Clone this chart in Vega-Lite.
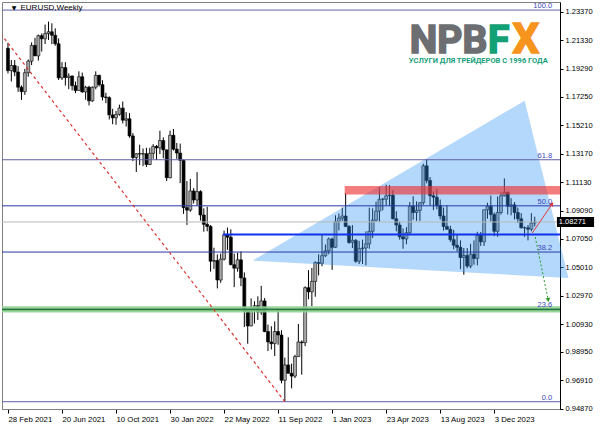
{
  "$schema": "https://vega.github.io/schema/vega-lite/v6.json",
  "width": 558,
  "height": 407,
  "padding": {"left": 2, "top": 2, "right": 40, "bottom": 20},
  "autosize": {"type": "none"},
  "background": "white",
  "config": {
    "view": {"stroke": "#808080", "strokeWidth": 1},
    "font": "Liberation Sans",
    "axis": {"labelOverlap": false, "labelFlush": false, "labelBound": false, "grid": false}
  },
  "datasets": {
    "candles": [
      {"d":"2021-02-28","o":1.2075,"h":1.2113,"l":1.1894,"c":1.1914},
      {"d":"2021-03-07","o":1.1914,"h":1.1990,"l":1.1836,"c":1.1951},
      {"d":"2021-03-14","o":1.1951,"h":1.1990,"l":1.1874,"c":1.1904},
      {"d":"2021-03-21","o":1.1904,"h":1.1946,"l":1.1762,"c":1.1795},
      {"d":"2021-03-28","o":1.1795,"h":1.1808,"l":1.1704,"c":1.1763},
      {"d":"2021-04-04","o":1.1763,"h":1.1927,"l":1.1740,"c":1.1899},
      {"d":"2021-04-11","o":1.1899,"h":1.1994,"l":1.1870,"c":1.1982},
      {"d":"2021-04-18","o":1.1982,"h":1.2117,"l":1.1954,"c":1.2095},
      {"d":"2021-04-25","o":1.2095,"h":1.2150,"l":1.2020,"c":1.2020},
      {"d":"2021-05-02","o":1.2020,"h":1.2173,"l":1.1986,"c":1.2165},
      {"d":"2021-05-09","o":1.2165,"h":1.2181,"l":1.2051,"c":1.2143},
      {"d":"2021-05-16","o":1.2143,"h":1.2245,"l":1.2105,"c":1.2180},
      {"d":"2021-05-23","o":1.2180,"h":1.2266,"l":1.2134,"c":1.2193},
      {"d":"2021-05-30","o":1.2193,"h":1.2254,"l":1.2104,"c":1.2168},
      {"d":"2021-06-06","o":1.2168,"h":1.2218,"l":1.2093,"c":1.2107},
      {"d":"2021-06-13","o":1.2107,"h":1.2145,"l":1.1847,"c":1.1862},
      {"d":"2021-06-20","o":1.1862,"h":1.1975,"l":1.1847,"c":1.1936},
      {"d":"2021-06-27","o":1.1936,"h":1.1975,"l":1.1807,"c":1.1865},
      {"d":"2021-07-04","o":1.1865,"h":1.1895,"l":1.1781,"c":1.1875},
      {"d":"2021-07-11","o":1.1875,"h":1.1880,"l":1.1772,"c":1.1806},
      {"d":"2021-07-18","o":1.1806,"h":1.1835,"l":1.1752,"c":1.1771},
      {"d":"2021-07-25","o":1.1771,"h":1.1909,"l":1.1770,"c":1.1870},
      {"d":"2021-08-01","o":1.1870,"h":1.1900,"l":1.1755,"c":1.1761},
      {"d":"2021-08-08","o":1.1761,"h":1.1805,"l":1.1705,"c":1.1795},
      {"d":"2021-08-15","o":1.1795,"h":1.1805,"l":1.1664,"c":1.1697},
      {"d":"2021-08-22","o":1.1697,"h":1.1800,"l":1.1690,"c":1.1795},
      {"d":"2021-08-29","o":1.1795,"h":1.1909,"l":1.1780,"c":1.1880},
      {"d":"2021-09-05","o":1.1880,"h":1.1885,"l":1.1800,"c":1.1813},
      {"d":"2021-09-12","o":1.1813,"h":1.1845,"l":1.1700,"c":1.1725},
      {"d":"2021-09-19","o":1.1725,"h":1.1755,"l":1.1680,"c":1.1720},
      {"d":"2021-09-26","o":1.1720,"h":1.1730,"l":1.1563,"c":1.1596},
      {"d":"2021-10-03","o":1.1596,"h":1.1640,"l":1.1529,"c":1.1575},
      {"d":"2021-10-10","o":1.1575,"h":1.1625,"l":1.1525,"c":1.1600},
      {"d":"2021-10-17","o":1.1600,"h":1.1670,"l":1.1590,"c":1.1645},
      {"d":"2021-10-24","o":1.1645,"h":1.1692,"l":1.1535,"c":1.1558},
      {"d":"2021-10-31","o":1.1558,"h":1.1616,"l":1.1512,"c":1.1568},
      {"d":"2021-11-07","o":1.1568,"h":1.1609,"l":1.1432,"c":1.1445},
      {"d":"2021-11-14","o":1.1445,"h":1.1465,"l":1.1264,"c":1.1290},
      {"d":"2021-11-21","o":1.1290,"h":1.1320,"l":1.1186,"c":1.1317},
      {"d":"2021-11-28","o":1.1317,"h":1.1382,"l":1.1236,"c":1.1315},
      {"d":"2021-12-05","o":1.1315,"h":1.1355,"l":1.1228,"c":1.1317},
      {"d":"2021-12-12","o":1.1317,"h":1.1360,"l":1.1222,"c":1.1240},
      {"d":"2021-12-19","o":1.1240,"h":1.1360,"l":1.1235,"c":1.1320},
      {"d":"2021-12-26","o":1.1320,"h":1.1386,"l":1.1280,"c":1.1370},
      {"d":"2022-01-02","o":1.1370,"h":1.1380,"l":1.1272,"c":1.1359},
      {"d":"2022-01-09","o":1.1359,"h":1.1482,"l":1.1315,"c":1.1412},
      {"d":"2022-01-16","o":1.1412,"h":1.1435,"l":1.1285,"c":1.1345},
      {"d":"2022-01-23","o":1.1345,"h":1.1345,"l":1.1121,"c":1.1145},
      {"d":"2022-01-30","o":1.1145,"h":1.1483,"l":1.1140,"c":1.1450},
      {"d":"2022-02-06","o":1.1450,"h":1.1495,"l":1.1340,"c":1.1350},
      {"d":"2022-02-13","o":1.1350,"h":1.1395,"l":1.1280,"c":1.1322},
      {"d":"2022-02-20","o":1.1322,"h":1.1390,"l":1.1106,"c":1.1270},
      {"d":"2022-02-27","o":1.1270,"h":1.1275,"l":1.0885,"c":1.0930},
      {"d":"2022-03-06","o":1.0930,"h":1.1121,"l":1.0806,"c":1.0912},
      {"d":"2022-03-13","o":1.0912,"h":1.1137,"l":1.0900,"c":1.1050},
      {"d":"2022-03-20","o":1.1050,"h":1.1070,"l":1.0960,"c":1.0985},
      {"d":"2022-03-27","o":1.0985,"h":1.1185,"l":1.0945,"c":1.1045},
      {"d":"2022-04-03","o":1.1045,"h":1.1055,"l":1.0837,"c":1.0877},
      {"d":"2022-04-10","o":1.0877,"h":1.0925,"l":1.0757,"c":1.0810},
      {"d":"2022-04-17","o":1.0810,"h":1.0936,"l":1.0760,"c":1.0795},
      {"d":"2022-04-24","o":1.0795,"h":1.0805,"l":1.0470,"c":1.0545},
      {"d":"2022-05-01","o":1.0545,"h":1.0642,"l":1.0490,"c":1.0550},
      {"d":"2022-05-08","o":1.0550,"h":1.0594,"l":1.0350,"c":1.0410},
      {"d":"2022-05-15","o":1.0410,"h":1.0600,"l":1.0390,"c":1.0560},
      {"d":"2022-05-22","o":1.0560,"h":1.0765,"l":1.0550,"c":1.0735},
      {"d":"2022-05-29","o":1.0735,"h":1.0787,"l":1.0627,"c":1.0718},
      {"d":"2022-06-05","o":1.0718,"h":1.0774,"l":1.0516,"c":1.0520},
      {"d":"2022-06-12","o":1.0520,"h":1.0600,"l":1.0359,"c":1.0495},
      {"d":"2022-06-19","o":1.0495,"h":1.0606,"l":1.0470,"c":1.0555},
      {"d":"2022-06-26","o":1.0555,"h":1.0615,"l":1.0366,"c":1.0425},
      {"d":"2022-07-03","o":1.0425,"h":1.0465,"l":1.0072,"c":1.0185},
      {"d":"2022-07-10","o":1.0185,"h":1.0200,"l":0.9952,"c":1.0080},
      {"d":"2022-07-17","o":1.0080,"h":1.0278,"l":1.0078,"c":1.0212},
      {"d":"2022-07-24","o":1.0212,"h":1.0258,"l":1.0097,"c":1.0225},
      {"d":"2022-07-31","o":1.0225,"h":1.0293,"l":1.0123,"c":1.0180},
      {"d":"2022-08-07","o":1.0180,"h":1.0368,"l":1.0160,"c":1.0260},
      {"d":"2022-08-14","o":1.0260,"h":1.0280,"l":1.0035,"c":1.0040},
      {"d":"2022-08-21","o":1.0040,"h":1.0090,"l":0.9900,"c":0.9965},
      {"d":"2022-08-28","o":0.9965,"h":1.0078,"l":0.9911,"c":0.9953},
      {"d":"2022-09-04","o":0.9953,"h":1.0113,"l":0.9864,"c":1.0040},
      {"d":"2022-09-11","o":1.0040,"h":1.0197,"l":0.9945,"c":1.0015},
      {"d":"2022-09-18","o":1.0015,"h":1.0050,"l":0.9668,"c":0.9690},
      {"d":"2022-09-25","o":0.9690,"h":0.9853,"l":0.9536,"c":0.9800},
      {"d":"2022-10-02","o":0.9800,"h":0.9999,"l":0.9740,"c":0.9740},
      {"d":"2022-10-09","o":0.9740,"h":0.9809,"l":0.9632,"c":0.9720},
      {"d":"2022-10-16","o":0.9720,"h":0.9873,"l":0.9705,"c":0.9860},
      {"d":"2022-10-23","o":0.9860,"h":1.0094,"l":0.9860,"c":0.9965},
      {"d":"2022-10-30","o":0.9965,"h":0.9976,"l":0.9730,"c":0.9960},
      {"d":"2022-11-06","o":0.9960,"h":1.0365,"l":0.9935,"c":1.0355},
      {"d":"2022-11-13","o":1.0355,"h":1.0481,"l":1.0272,"c":1.0325},
      {"d":"2022-11-20","o":1.0325,"h":1.0497,"l":1.0222,"c":1.0400},
      {"d":"2022-11-27","o":1.0400,"h":1.0545,"l":1.0290,"c":1.0535},
      {"d":"2022-12-04","o":1.0535,"h":1.0595,"l":1.0443,"c":1.0530},
      {"d":"2022-12-11","o":1.0530,"h":1.0737,"l":1.0509,"c":1.0585},
      {"d":"2022-12-18","o":1.0585,"h":1.0665,"l":1.0575,"c":1.0620},
      {"d":"2022-12-25","o":1.0620,"h":1.0715,"l":1.0595,"c":1.0705},
      {"d":"2023-01-01","o":1.0705,"h":1.0714,"l":1.0483,"c":1.0645},
      {"d":"2023-01-08","o":1.0645,"h":1.0875,"l":1.0640,"c":1.0830},
      {"d":"2023-01-15","o":1.0830,"h":1.0888,"l":1.0766,"c":1.0855},
      {"d":"2023-01-22","o":1.0855,"h":1.0930,"l":1.0835,"c":1.0870},
      {"d":"2023-01-29","o":1.0870,"h":1.1033,"l":1.0790,"c":1.0795},
      {"d":"2023-02-05","o":1.0795,"h":1.0805,"l":1.0670,"c":1.0680},
      {"d":"2023-02-12","o":1.0680,"h":1.0805,"l":1.0640,"c":1.0695},
      {"d":"2023-02-19","o":1.0695,"h":1.0705,"l":1.0533,"c":1.0545},
      {"d":"2023-02-26","o":1.0545,"h":1.0692,"l":1.0525,"c":1.0635},
      {"d":"2023-03-05","o":1.0635,"h":1.0700,"l":1.0525,"c":1.0640},
      {"d":"2023-03-12","o":1.0640,"h":1.0760,"l":1.0516,"c":1.0670},
      {"d":"2023-03-19","o":1.0670,"h":1.0930,"l":1.0635,"c":1.0760},
      {"d":"2023-03-26","o":1.0760,"h":1.0925,"l":1.0712,"c":1.0840},
      {"d":"2023-04-02","o":1.0840,"h":1.0973,"l":1.0830,"c":1.0905},
      {"d":"2023-04-09","o":1.0905,"h":1.1075,"l":1.0830,"c":1.0990},
      {"d":"2023-04-16","o":1.0990,"h":1.1000,"l":1.0910,"c":1.0990},
      {"d":"2023-04-23","o":1.0990,"h":1.1095,"l":1.0945,"c":1.1015},
      {"d":"2023-04-30","o":1.1015,"h":1.1092,"l":1.0942,"c":1.1020},
      {"d":"2023-05-07","o":1.1020,"h":1.1055,"l":1.0845,"c":1.0850},
      {"d":"2023-05-14","o":1.0850,"h":1.0905,"l":1.0760,"c":1.0805},
      {"d":"2023-05-21","o":1.0805,"h":1.0830,"l":1.0700,"c":1.0720},
      {"d":"2023-05-28","o":1.0720,"h":1.0780,"l":1.0635,"c":1.0705},
      {"d":"2023-06-04","o":1.0705,"h":1.0790,"l":1.0667,"c":1.0750},
      {"d":"2023-06-11","o":1.0750,"h":1.0970,"l":1.0732,"c":1.0940},
      {"d":"2023-06-18","o":1.0940,"h":1.1012,"l":1.0843,"c":1.0895},
      {"d":"2023-06-25","o":1.0895,"h":1.0975,"l":1.0835,"c":1.0910},
      {"d":"2023-07-02","o":1.0910,"h":1.0970,"l":1.0835,"c":1.0965},
      {"d":"2023-07-09","o":1.0965,"h":1.1245,"l":1.0950,"c":1.1230},
      {"d":"2023-07-16","o":1.1230,"h":1.1276,"l":1.1105,"c":1.1125},
      {"d":"2023-07-23","o":1.1125,"h":1.1150,"l":1.0945,"c":1.1015},
      {"d":"2023-07-30","o":1.1015,"h":1.1045,"l":1.0912,"c":1.1005},
      {"d":"2023-08-06","o":1.1005,"h":1.1065,"l":1.0918,"c":1.0945},
      {"d":"2023-08-13","o":1.0945,"h":1.0988,"l":1.0845,"c":1.0870},
      {"d":"2023-08-20","o":1.0870,"h":1.0930,"l":1.0765,"c":1.0795},
      {"d":"2023-08-27","o":1.0795,"h":1.0945,"l":1.0770,"c":1.0775},
      {"d":"2023-09-03","o":1.0775,"h":1.0800,"l":1.0685,"c":1.0700},
      {"d":"2023-09-10","o":1.0700,"h":1.0770,"l":1.0631,"c":1.0660},
      {"d":"2023-09-17","o":1.0660,"h":1.0737,"l":1.0615,"c":1.0645},
      {"d":"2023-09-24","o":1.0645,"h":1.0695,"l":1.0488,"c":1.0572},
      {"d":"2023-10-01","o":1.0572,"h":1.0640,"l":1.0448,"c":1.0586},
      {"d":"2023-10-08","o":1.0586,"h":1.0640,"l":1.0495,"c":1.0510},
      {"d":"2023-10-15","o":1.0510,"h":1.0670,"l":1.0495,"c":1.0595},
      {"d":"2023-10-22","o":1.0595,"h":1.0695,"l":1.0520,"c":1.0565},
      {"d":"2023-10-29","o":1.0565,"h":1.0756,"l":1.0515,"c":1.0730},
      {"d":"2023-11-05","o":1.0730,"h":1.0755,"l":1.0655,"c":1.0685},
      {"d":"2023-11-12","o":1.0685,"h":1.0915,"l":1.0655,"c":1.0915},
      {"d":"2023-11-19","o":1.0915,"h":1.0965,"l":1.0851,"c":1.0940},
      {"d":"2023-11-26","o":1.0940,"h":1.1017,"l":1.0830,"c":1.0880},
      {"d":"2023-12-03","o":1.0880,"h":1.0895,"l":1.0725,"c":1.0760},
      {"d":"2023-12-10","o":1.0760,"h":1.1010,"l":1.0720,"c":1.0895},
      {"d":"2023-12-17","o":1.0895,"h":1.1040,"l":1.0880,"c":1.1015},
      {"d":"2023-12-24","o":1.1015,"h":1.1140,"l":1.1010,"c":1.1040},
      {"d":"2023-12-31","o":1.1040,"h":1.1045,"l":1.0880,"c":1.0940},
      {"d":"2024-01-07","o":1.0940,"h":1.0998,"l":1.0875,"c":1.0950},
      {"d":"2024-01-14","o":1.0950,"h":1.0970,"l":1.0845,"c":1.0895},
      {"d":"2024-01-21","o":1.0895,"h":1.0930,"l":1.0820,"c":1.0850},
      {"d":"2024-01-28","o":1.0850,"h":1.0890,"l":1.0780,"c":1.0785},
      {"d":"2024-02-04","o":1.0785,"h":1.0795,"l":1.0720,"c":1.0785},
      {"d":"2024-02-11","o":1.0785,"h":1.0805,"l":1.0695,"c":1.0775},
      {"d":"2024-02-18","o":1.0775,"h":1.0890,"l":1.0760,"c":1.0820},
      {"d":"2024-02-25","o":1.0820,"h":1.0865,"l":1.0795,"c":1.0827}
    ],
    "fib": [
      {"p":1.2349,"t":"100.0"},
      {"p":1.1274,"t":"61.8"},
      {"p":1.0943,"t":"50.0"},
      {"p":1.0611,"t":"38.2"},
      {"p":1.0200,"t":"23.6"},
      {"p":0.9536,"t":"0.0"}
    ],
    "triangle": [
      {"d":"2022-07-20","p":1.0549,"k":1},
      {"d":"2024-02-04","p":1.1698,"k":2},
      {"d":"2024-05-05","p":1.0424,"k":3}
    ],
    "trend": [{"d1":"2021-01-06","p1":1.2349,"d2":"2022-09-25","p2":0.9536}],
    "upArrow": [{"d1":"2024-02-20","p1":1.0748,"d2":"2024-04-01","p2":1.0956}],
    "downArrow": [{"d1":"2024-02-26","p1":1.0719,"d2":"2024-03-24","p2":1.0266}],
    "support": [{"d1":"2022-05-20","d2":"2024-06-30","p":1.0737}],
    "resistance": [{"d1":"2023-01-27","d2":"2024-06-30","lo":1.1025,"hi":1.1085}],
    "greenZone": [{"lo":1.0177,"hi":1.0221,"p":1.0199}],
    "last": [{"p":1.08271,"t":"1.08271","lo":1.0791,"hi":1.0863}]
  },
  "layer": [
    {
      "data": {"name": "candles"},
      "mark": {"type": "rule", "color": "#000000", "strokeWidth": 1},
      "encoding": {
        "x": {"field": "d", "type": "temporal", "title": null,
          "scale": {"type": "utc", "domain": [{"year": 2021, "month": 2, "date": 26, "utc": true}, {"year": 2024, "month": 4, "date": 7, "utc": true}]},
          "axis": {"orient": "bottom", "title": null, "grid": false, "tickCount": 30,
            "values": [{"year":2021,"month":2,"date":28,"utc":true},{"year":2021,"month":6,"date":20,"utc":true},{"year":2021,"month":10,"date":10,"utc":true},{"year":2022,"month":1,"date":30,"utc":true},{"year":2022,"month":5,"date":22,"utc":true},{"year":2022,"month":9,"date":11,"utc":true},{"year":2023,"month":1,"date":1,"utc":true},{"year":2023,"month":4,"date":23,"utc":true},{"year":2023,"month":8,"date":13,"utc":true},{"year":2023,"month":12,"date":3,"utc":true}],
            "labelExpr": "utcFormat(datum.value, '%-d %b %Y')",
            "labelAlign": "left", "labelBaseline": "top", "labelFont": "Liberation Sans", "labelFontSize": 7.8, "labelColor": "#000000",
            "labelPadding": 2, "tickSize": 4, "tickColor": "#000000", "domainColor": "#808080",
            "labelOverlap": false, "labelFlush": false, "labelBound": false}
        },
        "y": {"field": "l", "type": "quantitative", "title": null,
          "scale": {"domain": [0.94836, 1.2407], "zero": false, "nice": false},
          "axis": {"orient": "right", "title": null, "grid": false, "tickCount": 30,
            "values": [0.9487, 0.9691, 0.9895, 1.0093, 1.0297, 1.0501, 1.0705, 1.0909, 1.1113, 1.1317, 1.1521, 1.1725, 1.1929, 1.2133, 1.2337],
            "format": ".5f", "labelFont": "Liberation Sans", "labelFontSize": 7.5, "labelColor": "#000000",
            "labelPadding": 2, "tickSize": 3, "tickColor": "#000000", "domainColor": "#000000",
            "labelOverlap": false, "labelFlush": false, "labelBound": false}
        },
        "y2": {"field": "h"}
      }
    },
    {
      "data": {"name": "candles"},
      "mark": {"type": "bar", "width": 3, "stroke": "#000000", "strokeWidth": 0.6},
      "encoding": {
        "x": {"field": "d", "type": "temporal", "title": null},
        "y": {"field": "o", "type": "quantitative", "title": null},
        "y2": {"field": "c"},
        "fill": {"condition": {"test": "datum.c >= datum.o", "value": "#a8a8a8"}, "value": "#000000"}
      }
    },
    {
      "data": {"name": "triangle"},
      "mark": {"type": "line", "fill": "#2b94f5", "fillOpacity": 0.36, "stroke": null, "strokeWidth": 0, "clip": false},
      "encoding": {
        "x": {"field": "d", "type": "temporal", "title": null},
        "y": {"field": "p", "type": "quantitative", "title": null},
        "order": {"field": "k", "type": "quantitative"}
      }
    },
    {
      "data": {"name": "last"},
      "mark": {"type": "rule", "color": "#b8b8b8", "strokeWidth": 1},
      "encoding": {"y": {"field": "p", "type": "quantitative", "title": null}}
    },
    {
      "data": {"name": "greenZone"},
      "mark": {"type": "rect", "color": "#8fd18f", "opacity": 0.9},
      "encoding": {
        "y": {"field": "lo", "type": "quantitative", "title": null},
        "y2": {"field": "hi"}
      }
    },
    {
      "data": {"name": "fib"},
      "mark": {"type": "rule", "strokeWidth": 1},
      "encoding": {
        "y": {"field": "p", "type": "quantitative", "title": null},
        "color": {"condition": {"test": "datum.t == '50.0' || datum.t == '38.2'", "value": "#2838a8"}, "value": "#6060a8"}
      }
    },
    {
      "data": {"name": "greenZone"},
      "mark": {"type": "rule", "color": "#1f7a3a", "strokeWidth": 1.5},
      "encoding": {"y": {"field": "p", "type": "quantitative", "title": null}}
    },
    {
      "data": {"name": "support"},
      "mark": {"type": "rule", "color": "#1030f0", "strokeWidth": 2, "clip": true},
      "encoding": {
        "x": {"field": "d1", "type": "temporal", "title": null},
        "x2": {"field": "d2"},
        "y": {"field": "p", "type": "quantitative", "title": null}
      }
    },
    {
      "data": {"name": "resistance"},
      "mark": {"type": "rect", "color": "#ec3535", "opacity": 0.65, "clip": true},
      "encoding": {
        "x": {"field": "d1", "type": "temporal", "title": null},
        "x2": {"field": "d2"},
        "y": {"field": "lo", "type": "quantitative", "title": null},
        "y2": {"field": "hi"}
      }
    },
    {
      "data": {"name": "trend"},
      "mark": {"type": "rule", "color": "#e03030", "strokeWidth": 1.2, "strokeDash": [3, 3], "clip": true},
      "encoding": {
        "x": {"field": "d1", "type": "temporal", "title": null},
        "x2": {"field": "d2"},
        "y": {"field": "p1", "type": "quantitative", "title": null},
        "y2": {"field": "p2"}
      }
    },
    {
      "data": {"name": "upArrow"},
      "mark": {"type": "rule", "color": "#e03a3a", "strokeWidth": 1},
      "encoding": {
        "x": {"field": "d1", "type": "temporal", "title": null},
        "x2": {"field": "d2"},
        "y": {"field": "p1", "type": "quantitative", "title": null},
        "y2": {"field": "p2"}
      }
    },
    {
      "data": {"name": "upArrow"},
      "mark": {"type": "point", "shape": "triangle-up", "filled": true, "color": "#e03a3a", "size": 22, "angle": 35, "opacity": 1},
      "encoding": {
        "x": {"field": "d2", "type": "temporal", "title": null},
        "y": {"field": "p2", "type": "quantitative", "title": null}
      }
    },
    {
      "data": {"name": "downArrow"},
      "mark": {"type": "rule", "color": "#2e9a2e", "strokeWidth": 1, "strokeDash": [2, 2]},
      "encoding": {
        "x": {"field": "d1", "type": "temporal", "title": null},
        "x2": {"field": "d2"},
        "y": {"field": "p1", "type": "quantitative", "title": null},
        "y2": {"field": "p2"}
      }
    },
    {
      "data": {"name": "downArrow"},
      "mark": {"type": "point", "shape": "triangle-up", "filled": true, "color": "#2e9a2e", "size": 22, "angle": 168, "opacity": 1},
      "encoding": {
        "x": {"field": "d2", "type": "temporal", "title": null},
        "y": {"field": "p2", "type": "quantitative", "title": null}
      }
    },
    {
      "data": {"name": "fib"},
      "mark": {"type": "text", "align": "right", "baseline": "bottom", "fontSize": 7.5, "font": "Liberation Sans", "color": "#3a46b8"},
      "encoding": {
        "x": {"datum": {"year": 2024, "month": 4, "date": 1, "utc": true}, "type": "temporal", "title": null},
        "y": {"field": "p", "type": "quantitative", "title": null},
        "text": {"field": "t"}
      }
    },
    {
      "data": {"name": "last"},
      "mark": {"type": "rect", "color": "#000000", "clip": false},
      "encoding": {
        "x": {"datum": {"year": 2024, "month": 4, "date": 11, "utc": true}, "type": "temporal", "title": null},
        "x2": {"datum": {"year": 2024, "month": 6, "date": 27, "utc": true}},
        "y": {"field": "lo", "type": "quantitative", "title": null},
        "y2": {"field": "hi"}
      }
    },
    {
      "data": {"name": "last"},
      "mark": {"type": "text", "align": "left", "baseline": "middle", "fontSize": 7.5, "font": "Liberation Sans", "color": "#ffffff"},
      "encoding": {
        "x": {"datum": {"year": 2024, "month": 4, "date": 15, "utc": true}, "type": "temporal", "title": null},
        "y": {"field": "p", "type": "quantitative", "title": null},
        "text": {"field": "t"}
      }
    },
    {
      "data": {"values": [{"t": "EURUSD,Weekly"}]},
      "mark": {"type": "text", "align": "left", "baseline": "middle", "fontSize": 8, "font": "Liberation Sans", "color": "#000000"},
      "encoding": {
        "x": {"datum": {"year": 2021, "month": 3, "date": 26, "utc": true}, "type": "temporal", "title": null},
        "y": {"datum": 1.2367, "type": "quantitative", "title": null},
        "text": {"field": "t"}
      }
    },
    {
      "data": {"values": [{"t": "▼"}]},
      "mark": {"type": "text", "align": "left", "baseline": "middle", "fontSize": 6, "font": "DejaVu Sans", "color": "#000000"},
      "encoding": {
        "x": {"datum": {"year": 2021, "month": 3, "date": 8, "utc": true}, "type": "temporal", "title": null},
        "y": {"datum": 1.2367, "type": "quantitative", "title": null},
        "text": {"field": "t"}
      }
    },
    {
      "data": {"values": [{"t": "NPB"}]},
      "mark": {"type": "text", "align": "left", "baseline": "alphabetic", "fontSize": 39, "fontWeight": "bold", "font": "Roboto", "color": "#6d6e71", "stroke": "#6d6e71", "strokeWidth": 1.6},
      "encoding": {
        "x": {"datum": {"year": 2023, "month": 6, "date": 11, "utc": true}, "type": "temporal", "title": null},
        "y": {"datum": 1.2044, "type": "quantitative", "title": null},
        "text": {"field": "t"}
      }
    },
    {
      "data": {"values": [{"t": "F"}]},
      "mark": {"type": "text", "align": "left", "baseline": "alphabetic", "fontSize": 39, "fontWeight": "bold", "font": "Roboto", "color": "#13a074", "stroke": "#13a074", "strokeWidth": 1.6},
      "encoding": {
        "x": {"datum": {"year": 2023, "month": 11, "date": 20, "utc": true}, "type": "temporal", "title": null},
        "y": {"datum": 1.2044, "type": "quantitative", "title": null},
        "text": {"field": "t"}
      }
    },
    {
      "data": {"values": [{"t": "X"}]},
      "mark": {"type": "text", "align": "left", "baseline": "alphabetic", "fontSize": 42, "fontWeight": "bold", "font": "Roboto", "color": "#f7941d", "stroke": "#f7941d", "strokeWidth": 1.6},
      "encoding": {
        "x": {"datum": {"year": 2024, "month": 1, "date": 10, "utc": true}, "type": "temporal", "title": null},
        "y": {"datum": 1.2044, "type": "quantitative", "title": null},
        "text": {"field": "t"}
      }
    },
    {
      "data": {"values": [{"t": "УСЛУГИ ДЛЯ ТРЕЙДЕРОВ С 1996 ГОДА"}]},
      "mark": {"type": "text", "align": "center", "baseline": "alphabetic", "fontSize": 7.5, "fontWeight": "bold", "font": "Liberation Sans Narrow, Roboto", "color": "#17a07b"},
      "encoding": {
        "x": {"datum": {"year": 2023, "month": 10, "date": 31, "utc": true}, "type": "temporal", "title": null},
        "y": {"datum": 1.1970, "type": "quantitative", "title": null},
        "text": {"field": "t"}
      }
    }
  ]
}
